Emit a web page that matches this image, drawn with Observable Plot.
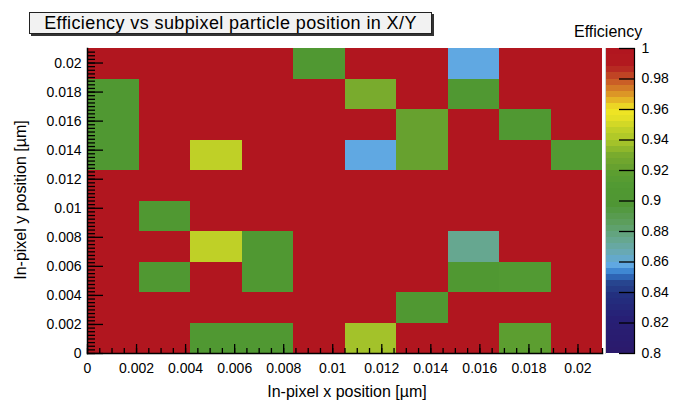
<!DOCTYPE html>
<html>
<head>
<meta charset="utf-8">
<script src="https://cdn.jsdelivr.net/npm/d3@7"></script>
<script src="https://cdn.jsdelivr.net/npm/@observablehq/plot@0.6"></script>
<style>
  html, body { margin: 0; padding: 0; background: #fff; }
  #wrap { position: relative; width: 681px; height: 404px; font-family: "Liberation Sans", Arial, sans-serif; color: #000; overflow: hidden; }
  #wrap svg { position: absolute; left: 0; top: 0; }
  .title { position: absolute; left: 29px; top: 12px; width: 401px; height: 20px; background: #f2f2f2; border: 1px solid #222; box-shadow: 2px 2px 0 #333; font-size: 18px; letter-spacing: 0.4px; line-height: 21px; text-align: center; white-space: nowrap; }
  .lab { position: absolute; white-space: nowrap; font-size: 16px; line-height: 16px; }
</style>
</head>
<body>
<div id="wrap">
  <div class="title">Efficiency vs subpixel particle position in X/Y</div>
  <div class="lab" id="xlab">In-pixel x position [µm]</div>
  <div class="lab" id="ylab">In-pixel y position [µm]</div>
  <div class="lab" id="zlab">Efficiency</div>
</div>
<script>
// ---- data ----
const xEdges = [0, 0.0021, 0.0042, 0.0063, 0.0084, 0.0105, 0.0126, 0.0147, 0.0168, 0.0189, 0.021];
const yEdges = [0, 0.0021, 0.0042, 0.0063, 0.0084, 0.0105, 0.0126, 0.0147, 0.0168, 0.0189, 0.021];
// efficiency per y bin (bottom to top), values per x bin (left to right)
const effRow0 = [1, 1, 0.906, 0.906, 1, 0.938, 1, 1, 0.918, 1];
const effRow1 = [1, 1, 1, 1, 1, 1, 0.906, 1, 1, 1];
const effRow2 = [1, 0.906, 1, 0.906, 1, 1, 1, 0.906, 0.910, 1];
const effRow3 = [1, 1, 0.946, 0.906, 1, 1, 1, 0.874, 1, 1];
const effRow4 = [1, 0.906, 1, 1, 1, 1, 1, 1, 1, 1];
const effRow5 = [1, 1, 1, 1, 1, 1, 1, 1, 1, 1];
const effRow6 = [0.906, 1, 0.946, 1, 1, 0.858, 0.922, 1, 1, 0.910];
const effRow7 = [0.906, 1, 1, 1, 1, 1, 0.922, 1, 0.906, 1];
const effRow8 = [0.906, 1, 1, 1, 1, 0.930, 1, 0.906, 1, 1];
const effRow9 = [1, 1, 1, 1, 0.906, 1, 1, 0.858, 1, 1];
const effRows = [effRow0, effRow1, effRow2, effRow3, effRow4, effRow5, effRow6, effRow7, effRow8, effRow9];

const xTicks = [0, 0.002, 0.004, 0.006, 0.008, 0.01, 0.012, 0.014, 0.016, 0.018, 0.02];
const yTicks = [0, 0.002, 0.004, 0.006, 0.008, 0.01, 0.012, 0.014, 0.016, 0.018, 0.02];
const zTicks = [0.8, 0.82, 0.84, 0.86, 0.88, 0.9, 0.92, 0.94, 0.96, 0.98, 1];
const zRange = [0.8, 1];
const nContours = 50;

// ---- palette (ROOT-like contour palette) ----
const paletteValues = [0.802, 0.822, 0.838, 0.846, 0.850, 0.854, 0.858, 0.866, 0.874, 0.886, 0.898, 0.906, 0.910, 0.918, 0.922, 0.930, 0.938, 0.946, 0.950, 0.954, 0.958, 0.962, 0.966, 0.970, 0.974, 0.978, 0.982, 0.986, 0.990, 0.998];
const paletteColors = ["#2b1a6c", "#271f75", "#23307f", "#27458f", "#2e64b4", "#3f87d2", "#60a8e2", "#68a9b4", "#66a790", "#5c9e5c", "#4f9634", "#509832", "#529a33", "#5c9e30", "#67a12f", "#79ab2d", "#a3c22a", "#bfd027", "#d2d826", "#e4e025", "#eee424", "#ecd524", "#e5b525", "#dc9626", "#d37a26", "#ca5e26", "#c04424", "#b72a22", "#b2191f", "#b1161f"];
const interp = d3.scaleLinear().domain(paletteValues).range(paletteColors).interpolate(d3.interpolateRgb).clamp(true);
const step = (zRange[1] - zRange[0]) / nContours;
const levels = d3.range(nContours).map(i => zRange[0] + i * step);
const thresholds = levels.slice(1);
const bandColors = levels.map(l => interp(l + step / 2));
const colorScale = {type: "threshold", domain: thresholds, range: bandColors};

const cells = [];
effRows.forEach((row, j) => row.forEach((v, i) => cells.push({x1: xEdges[i], x2: xEdges[i + 1], y1: yEdges[j], y2: yEdges[j + 1], eff: v})));

const font = '"Liberation Sans", Arial, sans-serif';
const fmt = d => String(d);

const main = Plot.plot({
  width: 681, height: 404,
  marginLeft: 87, marginRight: 79, marginTop: 48, marginBottom: 51,
  style: {fontFamily: font, fontSize: "14px", color: "#000", background: "transparent", overflow: "visible"},
  x: {domain: [xEdges[0], xEdges[xEdges.length - 1]]},
  y: {domain: [yEdges[0], yEdges[yEdges.length - 1]]},
  color: colorScale,
  marks: [
    Plot.rect(cells, {x1: "x1", x2: "x2", y1: "y1", y2: "y2", fill: "eff", shapeRendering: "crispEdges"}),
    Plot.frame({anchor: "left", stroke: "#000", strokeWidth: 1.5}),
    Plot.frame({anchor: "bottom", stroke: "#000", strokeWidth: 1.5}),
    Plot.axisY({anchor: "left", ticks: yTicks, tickSize: -16, tickPadding: 22, tickFormat: fmt, label: null, fontSize: 14, stroke: "#000", strokeWidth: 1.3}),
    Plot.axisY({anchor: "left", ticks: d3.range(0, 84).map(i => i * 0.00025).filter(v => v <= 0.021), tickSize: -8, tickFormat: null, text: null, label: null, stroke: "#000", strokeWidth: 1.3}),
    Plot.axisX({anchor: "bottom", ticks: xTicks, tickSize: -9, tickPadding: 19, tickFormat: fmt, label: null, fontSize: 14, stroke: "#000", strokeWidth: 1.3}),
    Plot.axisX({anchor: "bottom", ticks: d3.range(0, 43).map(i => i * 0.0005).filter(v => v <= 0.021), tickSize: -5, text: null, label: null, stroke: "#000", strokeWidth: 1.3})
  ]
});

const bar = Plot.plot({
  width: 681, height: 404,
  marginLeft: 605, marginRight: 47, marginTop: 48, marginBottom: 51,
  style: {fontFamily: font, fontSize: "14px", color: "#000", background: "transparent", overflow: "visible"},
  y: {domain: zRange},
  color: colorScale,
  marks: [
    Plot.rect(levels, {y1: d => d, y2: d => d + step, fill: d => d + step / 2, shapeRendering: "crispEdges"}),
    Plot.frame({anchor: "left", stroke: "#d0d0d0", strokeWidth: 1}),
    Plot.frame({anchor: "right", stroke: "#000", strokeWidth: 1.2}),
    Plot.axisY({anchor: "right", ticks: zTicks, tickSize: -16, tickPadding: 23, tickFormat: fmt, label: null, fontSize: 14, stroke: "#000", strokeWidth: 1.3})
  ]
});

const wrap = document.getElementById("wrap");
wrap.appendChild(main);
wrap.appendChild(bar);

const xlab = document.getElementById("xlab");
xlab.style.left = "347px"; xlab.style.top = "384px"; xlab.style.transform = "translateX(-50%)";
const ylab = document.getElementById("ylab");
ylab.style.left = "21px"; ylab.style.top = "200px"; ylab.style.transform = "translate(-50%, -50%) rotate(-90deg)";
const zlab = document.getElementById("zlab");
zlab.style.left = "574px"; zlab.style.top = "24px";
</script>
</body>
</html>
